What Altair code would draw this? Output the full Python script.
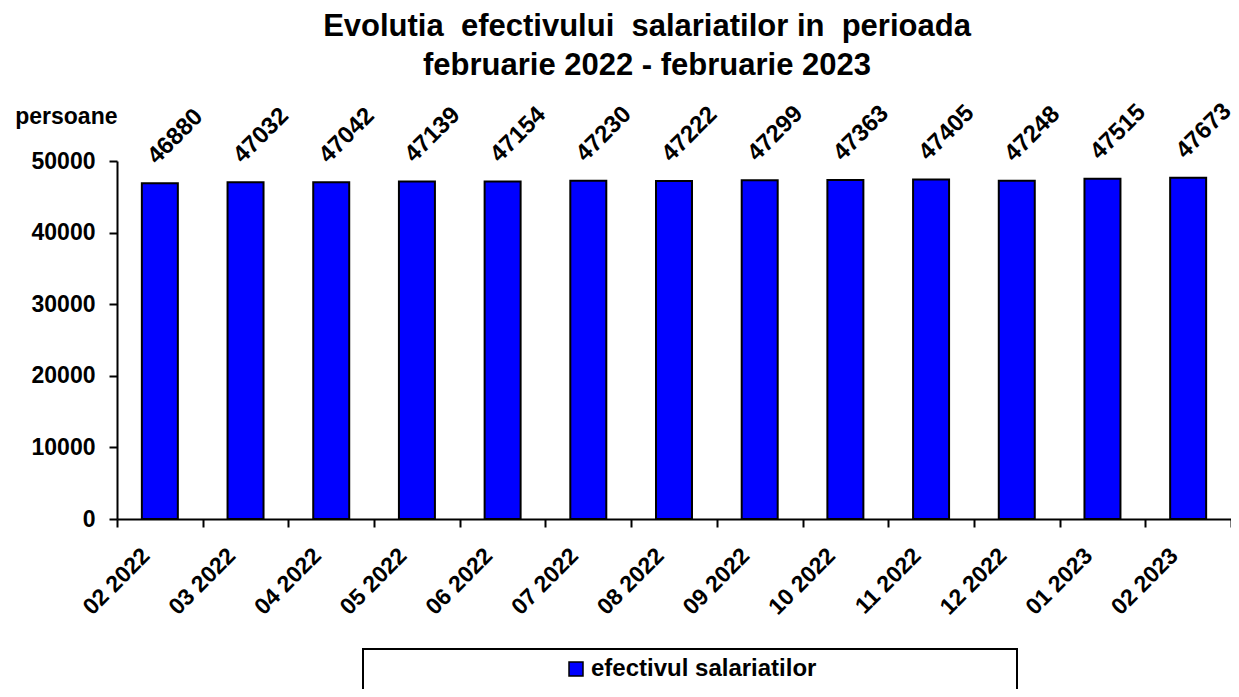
import altair as alt
import pandas as pd

months = ["02 2022", "03 2022", "04 2022", "05 2022", "06 2022", "07 2022", "08 2022",
          "09 2022", "10 2022", "11 2022", "12 2022", "01 2023", "02 2023"]
values = [46880, 47032, 47042, 47139, 47154, 47230, 47222, 47299, 47363, 47405, 47248, 47515, 47673]
series_name = "efectivul salariatilor"
NB = "\u00a0"
title_lines = [f"Evolutia{NB} efectivului{NB} salariatilor in{NB} perioada",
               "februarie 2022 - februarie 2023"]
y_ticks = [0, 10000, 20000, 30000, 40000, 50000]

FONT = "Liberation Sans"

df = pd.DataFrame({"luna": months, "valoare": values, "serie": [series_name] * len(months)})

x_enc = alt.X("luna:N", sort=months,
              scale=alt.Scale(paddingInner=0, paddingOuter=0),
              axis=alt.Axis(title=None, labelAngle=-45, labelAlign="right", labelBaseline="top",
                            labelFont=FONT, labelFontSize=23, labelFontWeight="bold", labelColor="black",
                            labelPadding=17, labelOffset=-22, tickBand="extent", tickSize=8,
                            tickWidth=2, tickColor="black", domainColor="black", domainWidth=2,
                            grid=False))
y_enc = alt.Y("valoare:Q", scale=alt.Scale(domain=[0, 50000], nice=False),
              axis=alt.Axis(values=y_ticks, format="d", title="persoane", titleAngle=0,
                            titleAlign="right", titleBaseline="alphabetic", titleX=0, titleY=-38,
                            titleFont=FONT, titleFontSize=23, titleFontWeight="bold", titleColor="black",
                            labelFont=FONT, labelFontSize=23, labelFontWeight="bold", labelColor="black",
                            labelPadding=14, tickSize=8, tickWidth=2, tickColor="black",
                            domainColor="black", domainWidth=2, grid=False))

bars = alt.Chart(df).mark_bar(width=alt.RelativeBandSize(0.42), stroke="black", strokeWidth=2).encode(
    x=x_enc,
    y=y_enc,
    fill=alt.Fill("serie:N", scale=alt.Scale(domain=[series_name], range=["#0000FF"]),
                  legend=alt.Legend(orient="none", legendX=447, legendY=496, title=None,
                                    symbolType="square", symbolSize=196, symbolStrokeColor="black",
                                    symbolStrokeWidth=1.5, labelFont=FONT, labelFontSize=24,
                                    labelFontWeight="bold", labelColor="black", labelOffset=3,
                                    labelLimit=500, padding=0)),
)

labels = alt.Chart(df).mark_text(angle=315, align="left", baseline="alphabetic", font=FONT,
                                 fontSize=24, fontWeight="bold", color="black",
                                 xOffset=-3, yOffset=-18).encode(
    x=alt.X("luna:N", sort=months),
    y=alt.Y("valoare:Q"),
    text=alt.Text("valoare:Q", format="d"),
)

box = alt.Chart(pd.DataFrame({"k": [0]})).mark_rect(fill="white", stroke="black", strokeWidth=2).encode(
    x=alt.value(246), x2=alt.value(900), y=alt.value(488), y2=alt.value(600)
)

chart = alt.layer(box, bars, labels).properties(
    width=1114, height=358,
    title=alt.TitleParams(text=title_lines, font=FONT, fontSize=31, fontWeight="bold", color="black",
                          anchor="middle", dx=-27, offset=17, lineHeight=39),
    autosize=alt.AutoSizeParams(type="none"),
    padding={"left": 109, "right": 0, "top": 153, "bottom": 170},
).configure_view(stroke=None)

chart.save("out.html", embed_options={"renderer": "svg", "actions": False})
